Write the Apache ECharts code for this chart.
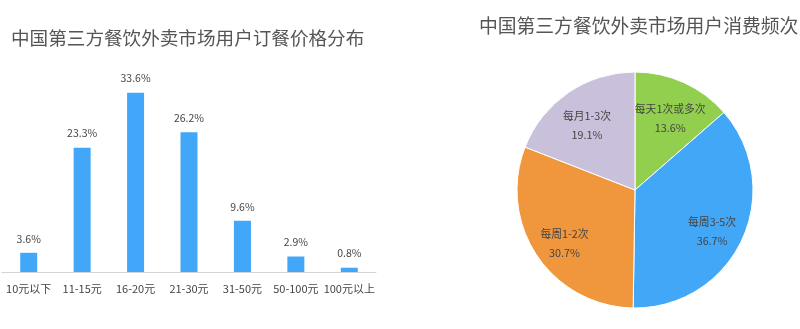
<!DOCTYPE html>
<html>
<head>
<meta charset="utf-8">
<script src="https://cdn.jsdelivr.net/npm/echarts@6/dist/echarts.min.js"></script>
<style>
  html, body { margin: 0; padding: 0; background: #fff; }
  #chart { width: 800px; height: 329px; }
</style>
</head>
<body>
<div id="chart"></div>
<script>
// Order price distribution (bar chart)
const priceCategories = ['10元以下', '11-15元', '16-20元', '21-30元', '31-50元', '50-100元', '100元以上'];
const priceShares = [3.6, 23.3, 33.6, 26.2, 9.6, 2.9, 0.8];

// Consumption frequency (pie chart)
const freqNames = ['每天1次或多次', '每周3-5次', '每周1-2次', '每月1-3次'];
const freqShares = [13.6, 36.7, 30.7, 19.1];
const freqColors = ['#92cf4f', '#43a7f8', '#f0963d', '#c9c1db'];

const barTitle = '中国第三方餐饮外卖市场用户订餐价格分布';
const pieTitle = '中国第三方餐饮外卖市场用户消费频次';

const FONT = '"Noto Sans CJK SC", "Noto Sans", sans-serif';
const pieData = freqNames.map((n, i) => ({ name: n, value: freqShares[i], itemStyle: { color: freqColors[i] } }));

const chart = echarts.init(document.getElementById('chart'));
chart.setOption({
  animation: false,
  backgroundColor: '#fff',
  textStyle: { fontFamily: FONT },
  title: [
    { text: barTitle, left: 6, top: 24, textStyle: { fontFamily: FONT, fontSize: 18.6, fontWeight: 'normal', color: '#555' } },
    { text: pieTitle, left: 474, top: 11, textStyle: { fontFamily: FONT, fontSize: 18.8, fontWeight: 'normal', color: '#555' } }
  ],
  grid: { left: 2, width: 374, top: 58.6, bottom: 57, containLabel: false },
  xAxis: {
    type: 'category',
    data: priceCategories,
    axisLine: { lineStyle: { color: '#d4d4d4', width: 1 } },
    axisTick: { show: false },
    axisLabel: { color: '#444', fontSize: 11, margin: 11, fontFamily: FONT, interval: 0 }
  },
  yAxis: {
    type: 'value', min: 0, max: 40,
    show: false,
    splitLine: { show: false }
  },
  series: [
    {
      type: 'bar',
      data: priceShares,
      barWidth: 17,
      itemStyle: { color: '#42a7f9' },
      label: {
        show: true, position: 'top', distance: 9,
        color: '#444', fontSize: 10.5, fontFamily: FONT,
        formatter: p => p.value + '%'
      }
    },
    {
      // full pie wedges
      type: 'pie',
      center: [635, 190],
      radius: [0, 118],
      startAngle: 90,
      clockwise: true,
      silent: true,
      label: { show: false },
      labelLine: { show: false },
      itemStyle: { borderColor: '#fff', borderWidth: 1 },
      data: pieData
    },
    {
      // transparent ring carrying the slice labels
      type: 'pie',
      center: [635, 190],
      radius: [48, 116],
      startAngle: 90,
      clockwise: true,
      silent: true,
      itemStyle: { color: 'rgba(0,0,0,0)', borderWidth: 0 },
      label: {
        show: true, position: 'inside', offset: [0, 6],
        color: '#444', fontSize: 10.8, lineHeight: 19, fontFamily: FONT,
        formatter: p => p.name + '\n' + p.value + '%'
      },
      labelLine: { show: false },
      data: freqNames.map((n, i) => ({ name: n, value: freqShares[i] }))
    }
  ]
});
</script>
</body>
</html>
